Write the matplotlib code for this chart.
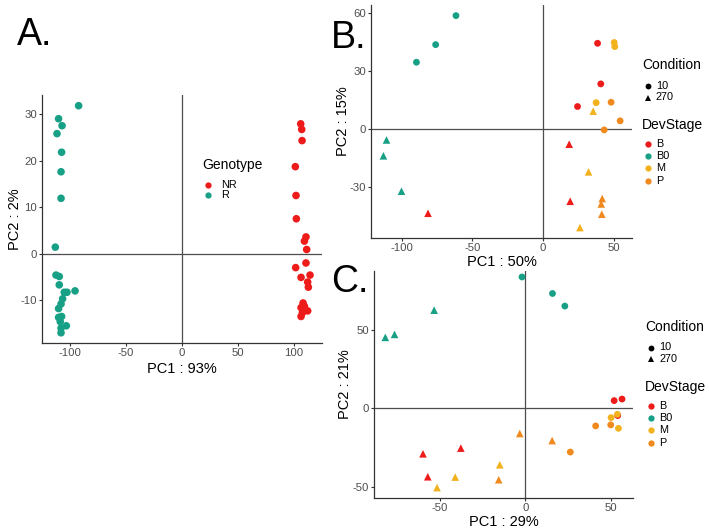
import matplotlib
matplotlib.use("Agg")
import matplotlib.pyplot as plt
from matplotlib.lines import Line2D

plt.rcParams['font.family'] = ['Liberation Sans', 'DejaVu Sans']
plt.rcParams['axes.unicode_minus'] = False

# ---------------- Data ----------------
# Panel A: Genotype PCA
R_pc1 = [-92.3, -110.2, -107.1, -111.6, -107.5, -108.0, -108.0, -113.1, -112.5, -109.6,
         -109.6, -105.1, -102.7, -95.5, -106.6, -108.0, -110.2, -110.2, -107.5, -108.7,
         -108.0, -103.3, -108.0]
R_pc2 = [31.8, 29.0, 27.5, 25.8, 21.8, 17.6, 11.9, 1.4, -4.6, -4.9,
         -6.7, -8.3, -8.3, -8.0, -9.7, -10.8, -11.8, -13.7, -13.5, -14.6,
         -16.0, -15.5, -17.0]
NR_pc1 = [106.0, 106.9, 107.2, 101.2, 101.8, 102.1, 110.7, 109.3, 111.3, 101.5,
          110.7, 106.3, 114.3, 112.2, 112.8, 108.1, 106.3, 112.2, 107.5, 106.3, 109.3]
NR_pc2 = [27.9, 26.7, 24.3, 18.7, 12.5, 7.5, 3.6, 2.7, 0.9, -3.0,
          -2.0, -5.1, -4.6, -6.1, -7.2, -10.6, -11.6, -12.3, -12.7, -13.5, -11.3]

stages = ['B', 'B0', 'M', 'P']
conditions = ['10', '270']

# Panel B: per stage, condition 10 (circles) and 270 (triangles)
B_pc1 = {('B', '10'): [38.7, 41.0, 24.5], ('B', '270'): [-81.4, 18.6, 19.3],
         ('B0', '10'): [-61.6, -76.0, -89.6], ('B0', '270'): [-110.8, -113.0, -100.2],
         ('M', '10'): [50.5, 50.9, 37.7], ('M', '270'): [35.6, 32.3, 26.2],
         ('P', '10'): [48.3, 54.7, 43.4], ('P', '270'): [42.0, 41.3, 41.7]}
B_pc2 = {('B', '10'): [44.1, 23.1, 11.4], ('B', '270'): [-43.8, -8.1, -37.6],
         ('B0', '10'): [58.4, 43.4, 34.3], ('B0', '270'): [-5.9, -14.1, -32.4],
         ('M', '10'): [44.5, 42.4, 13.4], ('M', '270'): [9.0, -22.4, -51.2],
         ('P', '10'): [13.6, 4.0, -0.7], ('P', '270'): [-36.2, -39.0, -44.3]}

# Panel C
C_pc1 = {('B', '10'): [51.8, 56.4, 53.9], ('B', '270'): [-59.8, -57.0, -37.7],
         ('B0', '10'): [-2.0, 15.8, 23.0], ('B0', '270'): [-81.8, -76.4, -53.3],
         ('M', '10'): [53.7, 50.0, 54.3], ('M', '270'): [-51.6, -41.0, -15.0],
         ('P', '10'): [41.0, 49.8, 26.2], ('P', '270'): [-3.3, 15.6, -15.6]}
C_pc2 = {('B', '10'): [4.9, 5.9, -4.6], ('B', '270'): [-28.9, -43.5, -25.3],
         ('B0', '10'): [83.5, 73.0, 65.0], ('B0', '270'): [45.1, 47.0, 62.4],
         ('M', '10'): [-3.8, -5.9, -12.7], ('M', '270'): [-50.4, -43.7, -35.9],
         ('P', '10'): [-11.2, -10.5, -27.8], ('P', '270'): [-16.0, -20.5, -45.4]}

# ---------------- Style ----------------
W, H = 709, 530
stage_colors = {'B': '#EE1B1B', 'B0': '#17A085', 'M': '#F2B21E', 'P': '#F08A1F'}
geno_colors = {'NR': '#EE1B1B', 'R': '#17A085'}
cond_markers = {'10': 'o', '270': '^'}
TICK_C = '#4D4D4D'
LINE_C = '#4D4D4D'

fig = plt.figure(figsize=(W / 100, H / 100), dpi=100)
fig.patch.set_facecolor('white')


def ax_at(l, t, r, b):
    return fig.add_axes([l / W, (H - b) / H, (r - l) / W, (b - t) / H])


def style(ax, box, xlim, ylim, xticks, yticks, xlabel, ylabel, xlab_y, ylab_x):
    l, t, r, b = box
    ax.set_xlim(*xlim)
    ax.set_ylim(*ylim)
    ax.set_xticks(xticks)
    ax.set_yticks(yticks)
    for s in ['top', 'right']:
        ax.spines[s].set_visible(False)
    for s in ['left', 'bottom']:
        ax.spines[s].set_color('#333333')
        ax.spines[s].set_linewidth(0.9)
    ax.tick_params(colors='#333333', labelcolor=TICK_C, labelsize=8.2, length=2.5,
                   width=0.8, pad=1.2)
    ax.axhline(0, color=LINE_C, lw=0.9, zorder=1)
    ax.axvline(0, color=LINE_C, lw=0.9, zorder=1)
    ax.set_xlabel(xlabel, fontsize=10.5)
    ax.set_ylabel(ylabel, fontsize=10.5)
    ax.xaxis.label.set_va('center')
    ax.yaxis.label.set_va('center')
    ax.xaxis.set_label_coords(0.5, -(xlab_y - b) / (b - t))
    ax.yaxis.set_label_coords((ylab_x - l) / (r - l), 0.5)
    ax.patch.set_alpha(0)


def ftext(x, y, s, **kw):
    fig.text(x / W, (H - y) / H, s, **kw)


def fmark(x, y, marker, color, size):
    fig.add_artist(Line2D([x / W], [(H - y) / H], marker=marker, color=color,
                          markersize=size, markeredgewidth=0, linestyle='none',
                          transform=fig.transFigure))


# ---------------- Panel A ----------------
boxA = (42, 95, 322, 343)
axA = ax_at(*boxA)
style(axA, boxA, (-125, 125), (-19.2, 34.1), [-100, -50, 0, 50, 100], [-10, 0, 10, 20, 30],
      'PC1 : 93%', 'PC2 : 2%', 369, 15)
axA.scatter(R_pc1, R_pc2, s=30, color=geno_colors['R'], edgecolors='none', zorder=3)
axA.scatter(NR_pc1, NR_pc2, s=30, color=geno_colors['NR'], edgecolors='none', zorder=3)

ftext(202, 165, 'Genotype', fontsize=10, va='center', ha='left')
for i, g in enumerate(['NR', 'R']):
    y = 184.5 + i * 10
    fmark(208, y, 'o', geno_colors[g], 4.5)
    ftext(221, y, g, fontsize=7.8, va='center', ha='left')

# ---------------- Panel B ----------------
boxB = (371, 5, 632, 238)
axB = ax_at(*boxB)
style(axB, boxB, (-121.8, 63.1), (-56.6, 63.9), [-100, -50, 0, 50], [-30, 0, 30, 60],
      'PC1 : 50%', 'PC2 : 15%', 262, 343)
for st in stages:
    for cd in conditions:
        axB.scatter(B_pc1[(st, cd)], B_pc2[(st, cd)], s=24 if cd == '10' else 30,
                    marker=cond_markers[cd], color=stage_colors[st],
                    edgecolors='none', zorder=3)

# ---------------- Panel C ----------------
boxC = (374, 271, 633, 498)
axC = ax_at(*boxC)
style(axC, boxC, (-88.4, 62.8), (-57, 87.3), [-50, 0, 50], [-50, 0, 50],
      'PC1 : 29%', 'PC2 : 21%', 522, 345)
for st in stages:
    for cd in conditions:
        axC.scatter(C_pc1[(st, cd)], C_pc2[(st, cd)], s=24 if cd == '10' else 30,
                    marker=cond_markers[cd], color=stage_colors[st],
                    edgecolors='none', zorder=3)


# ---------------- Legends for B and C ----------------
def stage_legend(x0, y_cond, y_c10, y_dev, y_b):
    ftext(x0, y_cond, 'Condition', fontsize=10, va='center', ha='left')
    for i, cd in enumerate(conditions):
        y = y_c10 + i * 11.5
        fmark(x0 + 6, y, cond_markers[cd], 'black', 4.2)
        ftext(x0 + 14, y, cd, fontsize=7.8, va='center', ha='left')
    ftext(x0, y_dev, 'DevStage', fontsize=10, va='center', ha='left')
    for i, st in enumerate(stages):
        y = y_b + i * 12.2
        fmark(x0 + 6, y, 'o', stage_colors[st], 4.5)
        ftext(x0 + 14, y, st, fontsize=7.8, va='center', ha='left')


stage_legend(642, 65, 86, 125, 144)
stage_legend(645, 327, 347.5, 387, 406)

# ---------------- Panel labels ----------------
ftext(17, 45, 'A.', fontsize=27, va='baseline', ha='left')
ftext(331, 48, 'B.', fontsize=27, va='baseline', ha='left')
ftext(331, 292, 'C.', fontsize=27, va='baseline', ha='left')

fig.savefig('out.png', dpi=100, facecolor='white')
